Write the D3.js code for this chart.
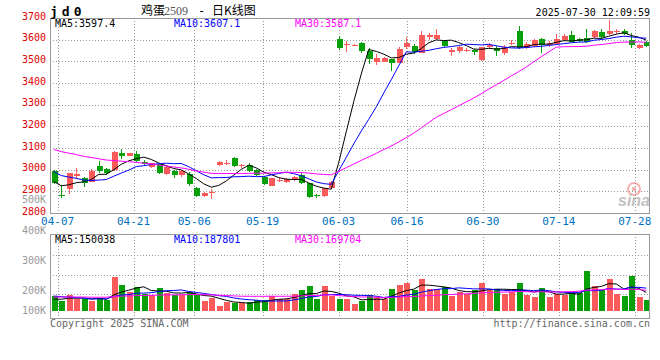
<!DOCTYPE html>
<html>
<head>
<meta charset="utf-8">
<script src="https://cdn.jsdelivr.net/npm/d3@7"></script>
<style>
  body { margin: 0; background: #fff; }
  text { font-family: "DejaVu Sans Mono", monospace; }
</style>
</head>
<body>
<svg id="chart" width="660" height="360"></svg>
<script>
//================ DATA ==========================================
const dates = ["04-03","04-07","04-08","04-09","04-10","04-11","04-14","04-15","04-16","04-17","04-18",
  "04-21","04-22","04-23","04-24","04-25","04-28","04-29","04-30","05-06","05-07","05-08","05-09",
  "05-12","05-13","05-14","05-15","05-16","05-19","05-20","05-21","05-22","05-23","05-26","05-27",
  "05-28","05-29","05-30","06-03","06-04","06-05","06-06","06-09","06-10","06-11","06-12","06-13",
  "06-16","06-17","06-18","06-19","06-20","06-23","06-24","06-25","06-26","06-27","06-30","07-01",
  "07-02","07-03","07-04","07-07","07-08","07-09","07-10","07-11","07-14","07-15","07-16","07-17",
  "07-18","07-21","07-22","07-23","07-24","07-25","07-28","07-29","07-30"];

const opens = [2995,2885,2911,2972,2963,2945,3017,3005,2998,3076,3065,3072,3037,3014,3026,2979,2995,2975,2980,
  2914,2880,2891,3022,3028,3052,3015,3021,2998,2965,2926,2950,2945,2952,2975,2937,2882,2880,2914,
  3603,3575,3573,3583,3548,3499,3499,3509,3494,3568,3571,3540,3611,3603,3595,3542,3549,3550,3553,
  3508,3565,3560,3540,3580,3641,3560,3572,3603,3575,3580,3598,3622,3603,3609,3614,3634,3626,3634,
  3641,3598,3560,3591];
const highs = [2998,2930,2985,3006,2968,3002,3041,3010,3085,3095,3078,3088,3045,3032,3030,3018,3000,3000,2988,
  2921,2895,2912,3040,3045,3058,3028,3030,3002,2970,2963,2960,2960,2972,2985,2940,2888,2916,2948,
  3618,3595,3582,3590,3560,3534,3522,3512,3565,3614,3578,3641,3630,3648,3600,3562,3572,3562,3558,
  3568,3585,3570,3575,3600,3664,3590,3605,3610,3592,3626,3625,3640,3608,3649,3645,3648,3692,3648,
  3648,3632,3580,3592];
const lows = [2935,2868,2888,2955,2919,2942,2983,2975,2995,3048,3062,3034,3020,3010,2978,2975,2963,2968,2925,
  2875,2874,2866,3018,3020,3012,3010,2990,2970,2928,2924,2945,2940,2948,2935,2871,2870,2876,2910,
  3552,3545,3570,3540,3486,3481,3495,3455,3492,3555,3535,3538,3600,3600,3565,3525,3540,3545,3530,
  3502,3555,3525,3530,3574,3555,3555,3565,3537,3568,3575,3595,3588,3590,3585,3610,3605,3622,3625,
  3620,3560,3558,3565];
const closes = [2940,2878,2983,2978,2940,2995,2995,2986,3083,3065,3076,3041,3025,3029,2983,3014,2975,2995,2932,
  2880,2891,2898,3037,3033,3017,3022,2994,2975,2934,2961,2953,2957,2968,2940,2875,2878,2914,2942,
  3560,3580,3577,3549,3509,3514,3517,3491,3556,3586,3542,3622,3622,3622,3571,3552,3565,3553,3542,
  3565,3575,3549,3565,3584,3560,3580,3598,3575,3583,3603,3618,3591,3594,3591,3640,3614,3640,3641,
  3626,3575,3575,3572];
const volumes = [123000,82000,131000,98000,98000,82000,109000,90000,281000,213000,158000,199000,139000,131000,
  191000,150000,131000,131000,158000,131000,82000,109000,44000,71000,63000,63000,76000,90000,90000,
  123000,98000,98000,139000,172000,205000,98000,205000,123000,98000,98000,57000,84000,131000,112000,
  98000,180000,213000,232000,172000,262000,180000,180000,194000,125000,158000,137000,172000,232000,
  172000,180000,137000,158000,232000,131000,117000,191000,117000,137000,131000,150000,150000,328000,
  207000,172000,262000,139000,123000,289000,117000,90000];

// closes and volumes before 04-03, estimated from where the MA lines start
const priorCloses = [3190,3185,3180,3175,3170,3165,3160,3155,3150,3145,3130,
  3150,3140,3135,3130,3125,3120,3115,3115,3060,3060,3050,3040,3020,3015,2975,2960,2930,2920];
const priorVolumes = [100000,120000,95000,110000,130000,105000,90000,115000,125000,100000,110000,120000,
  105000,95000,130000,115000,100000,120000,110000,125000,140000,160000,150000,135000,155000,
  90000,85000,100000,92000];

const priceTicks = [3700,3600,3500,3400,3300,3200,3100,3000,2900,2800];
const volTicks = [500000,400000,300000,200000,100000];
const volTickLabels = ["500K","400K","300K","200K","100K"];
const dateTicks = ["04-07","04-21","05-06","05-19","06-03","06-16","06-30","07-14","07-28"];
const maPeriods = [5,10,30];
const priceMaText = ["3597.4","3607.1","3587.1"];
const volMaText = ["150038","187801","169704"];

//================ LAYOUT ===================
const left = 50, right = 650;
const pTop = 18, pBot = 213;
const vTop = 234, vBot = 318, vBase = 311;
const volGridY = [255.5, 275, 294.5];
const upColor = "#fa5a5a", downColor = "#08a008";
const maColors = ["#000000", "#0000ff", "#ff00ff"];

const svg = d3.select("#chart");

//================ SCALES ===================
const xb = d3.scaleBand().domain(dates).range([left, right]);
const xc = d => xb(d) + xb.bandwidth() / 2;
const xg = d3.scalePoint().domain(dates).range([left, right]);
const y = d3.scaleLinear().domain([2800, 3700]).range([pBot, pTop]);
const yv = d3.scaleLinear().domain([0, 631000]).range([vBase, vTop]);
const yvLabel = d3.scaleLinear().domain([100000, 200000, 500000]).range([314, 294.3, 203.3]);

const bars = dates.map((d, i) => ({
  d: d, o: opens[i], h: highs[i], l: lows[i], c: closes[i], v: volumes[i],
  up: closes[i] >= opens[i]
}));

function movingAvg(series, prior, n) {
  const all = prior.concat(series);
  return series.map((_, i) => {
    const end = prior.length + i + 1;
    return d3.mean(all.slice(end - n, end));
  });
}

//================ CLIPS ===================
const defs = svg.append("defs");
defs.append("clipPath").attr("id", "clipP").append("rect")
  .attr("x", left).attr("y", pTop).attr("width", right - left).attr("height", pBot - pTop);
defs.append("clipPath").attr("id", "clipV").append("rect")
  .attr("x", left).attr("y", vTop).attr("width", right - left).attr("height", vBot - vTop);

//================ GRID ===================
const grid = svg.append("g").attr("stroke", "#999").attr("stroke-dasharray", "1,2").attr("shape-rendering", "crispEdges");
grid.selectAll(".hp").data(priceTicks.slice(1, -1)).enter().append("line")
  .attr("x1", left).attr("x2", right)
  .attr("y1", d => Math.round(y(d)) + 0.5).attr("y2", d => Math.round(y(d)) + 0.5);
grid.selectAll(".hv").data(volGridY).enter().append("line")
  .attr("x1", left).attr("x2", right)
  .attr("y1", d => d).attr("y2", d => d);
grid.selectAll(".vp").data(dateTicks).enter().append("line")
  .attr("x1", d => Math.round(xg(d)) + 0.5).attr("x2", d => Math.round(xg(d)) + 0.5)
  .attr("y1", pTop).attr("y2", pBot);
grid.selectAll(".vv").data(dateTicks).enter().append("line")
  .attr("x1", d => Math.round(xg(d)) + 0.5).attr("x2", d => Math.round(xg(d)) + 0.5)
  .attr("y1", vTop).attr("y2", vBot);

//================ SINA WATERMARK ===================
const logo = svg.append("g").attr("opacity", 0.6);
logo.append("circle").attr("cx", 634).attr("cy", 189).attr("r", 6)
  .attr("fill", "none").attr("stroke", "#f08080").attr("stroke-width", 2);
logo.append("circle").attr("cx", 634).attr("cy", 189).attr("r", 2.2).attr("fill", "#f08080");
logo.append("text").attr("x", 618).attr("y", 206).text("sina")
  .style("font-family", "Liberation Sans, Arial").style("font-style", "italic")
  .style("font-weight", "bold").style("font-size", "16px").attr("fill", "#999");

//================ CANDLES ===================
const candles = svg.append("g").attr("clip-path", "url(#clipP)").attr("shape-rendering", "crispEdges");
candles.selectAll(".wick").data(bars).enter().append("line")
  .attr("x1", d => Math.round(xc(d.d)) + 0.5).attr("x2", d => Math.round(xc(d.d)) + 0.5)
  .attr("y1", d => y(d.h)).attr("y2", d => y(d.l))
  .attr("stroke", d => d.up ? upColor : downColor);
candles.selectAll(".body").data(bars).enter().append("rect")
  .attr("x", d => Math.round(xc(d.d)) - 2)
  .attr("width", 6)
  .attr("y", d => y(Math.max(d.o, d.c)))
  .attr("height", d => Math.max(1, y(Math.min(d.o, d.c)) - y(Math.max(d.o, d.c))))
  .attr("fill", d => d.up ? upColor : downColor);

//================ VOLUME BARS ===================
const vol = svg.append("g").attr("clip-path", "url(#clipV)").attr("shape-rendering", "crispEdges");
vol.selectAll("rect").data(bars).enter().append("rect")
  .attr("x", d => Math.round(xc(d.d)) - 2)
  .attr("width", 6)
  .attr("y", d => yv(d.v))
  .attr("height", d => vBase - yv(d.v))
  .attr("fill", d => d.up ? upColor : downColor);

//================ MOVING AVERAGES ===================
maPeriods.forEach((n, k) => {
  const pm = movingAvg(closes, priorCloses, n);
  const vm = movingAvg(volumes, priorVolumes, n);
  svg.append("path").datum(pm).attr("clip-path", "url(#clipP)")
    .attr("fill", "none").attr("stroke", maColors[k]).attr("stroke-width", 1)
    .attr("d", d3.line().x((v, i) => xc(dates[i])).y(v => y(v)));
  svg.append("path").datum(vm).attr("clip-path", "url(#clipV)")
    .attr("fill", "none").attr("stroke", maColors[k]).attr("stroke-width", 1)
    .attr("d", d3.line().x((v, i) => xc(dates[i])).y(v => yv(v)));
});

//================ FRAMES ===================
svg.append("rect").attr("x", left + 0.5).attr("y", pTop + 0.5)
  .attr("width", right - left - 1).attr("height", pBot - pTop)
  .attr("fill", "none").attr("stroke", "#999");
svg.append("rect").attr("x", left + 0.5).attr("y", vTop + 0.5)
  .attr("width", right - left - 1).attr("height", vBot - vTop)
  .attr("fill", "none").attr("stroke", "#999");

//================ AXIS LABELS ===================
svg.selectAll(".plab").data(priceTicks).enter().append("text")
  .attr("x", 46).attr("y", d => y(d) + 1.5).attr("text-anchor", "end")
  .attr("fill", "#e00000").style("font-size", "10px").text(d => d);
svg.selectAll(".vlab").data(volTicks).enter().append("text")
  .attr("x", 46).attr("y", d => yvLabel(d)).attr("text-anchor", "end")
  .attr("fill", "#999").style("font-size", "10px").text((d, i) => volTickLabels[i]);
svg.selectAll(".dlab").data(dateTicks).enter().append("text")
  .attr("x", d => xg(d)).attr("y", 224.5).attr("text-anchor", "middle")
  .attr("fill", "#0070c0").style("font-size", "11px").text(d => d);

//================ LEGENDS ===================
const legendX = [55, 174, 295];
maPeriods.forEach((n, k) => {
  svg.append("text").attr("x", legendX[k]).attr("y", 27).attr("fill", maColors[k])
    .style("font-size", "10px").text("MA" + n + ":" + priceMaText[k]);
  svg.append("text").attr("x", legendX[k]).attr("y", 242.5).attr("fill", maColors[k])
    .style("font-size", "10px").text("MA" + n + ":" + volMaText[k]);
});

//================ TITLES ===================
svg.append("text").attr("x", 50).attr("y", 15.5).style("font-size", "13px")
  .style("font-weight", "bold").style("letter-spacing", "4px").attr("fill", "#000").text("jd0");
const cjk = "'Noto Sans CJK SC', sans-serif";
svg.append("text").attr("x", 141).attr("y", 15).style("font-family", cjk).style("font-size", "12px").text("鸡蛋");
svg.append("text").attr("x", 164).attr("y", 15).style("font-family", "Liberation Serif, serif")
  .style("font-size", "12px").attr("fill", "#555").text("2509");
svg.append("text").attr("x", 198).attr("y", 15).style("font-size", "12px").text("-");
svg.append("text").attr("x", 212).attr("y", 15).style("font-family", cjk).style("font-size", "12px").text("日K线图");
svg.append("text").attr("x", 650).attr("y", 15.5).attr("text-anchor", "end")
  .style("font-size", "10px").attr("fill", "#000").text("2025-07-30 12:09:59");

svg.append("text").attr("x", 50).attr("y", 327).style("font-size", "10px").attr("fill", "#666")
  .text("Copyright 2025 SINA.COM");
svg.append("text").attr("x", 650).attr("y", 327).attr("text-anchor", "end")
  .style("font-size", "10px").attr("fill", "#666").text("http://finance.sina.com.cn");
</script>
</body>
</html>
